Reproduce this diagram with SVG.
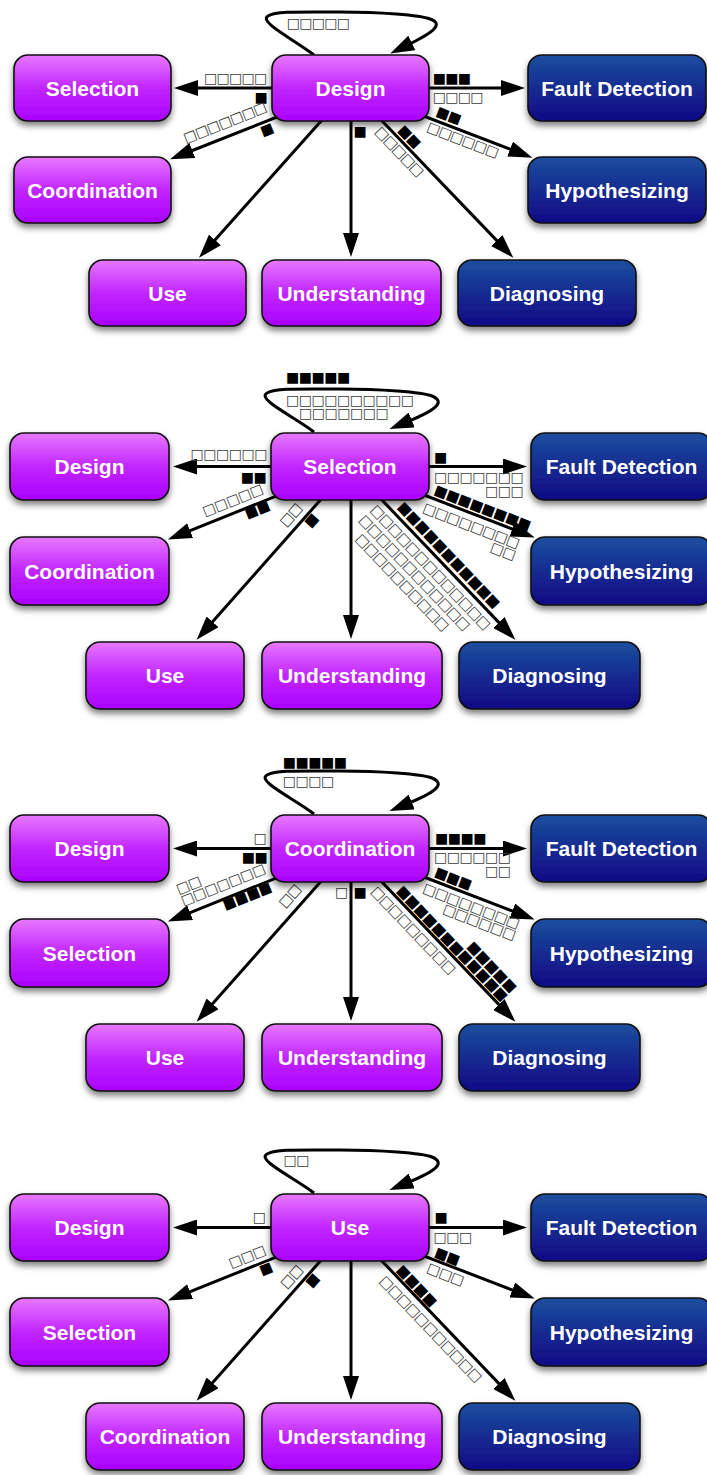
<svg xmlns="http://www.w3.org/2000/svg" width="707" height="1475" viewBox="0 0 707 1475">
<defs>
<linearGradient id="gp" x1="0" y1="0" x2="0" y2="1">
<stop offset="0" stop-color="#e878ff"/><stop offset="0.5" stop-color="#c126ff"/><stop offset="1" stop-color="#aa00ff"/>
</linearGradient>
<linearGradient id="gn" x1="0" y1="0" x2="0" y2="1">
<stop offset="0" stop-color="#1c4f9f"/><stop offset="0.5" stop-color="#132b90"/><stop offset="1" stop-color="#110986"/>
</linearGradient>
<filter id="sh" x="-20%" y="-20%" width="140%" height="170%">
<feDropShadow dx="0" dy="4" stdDeviation="3" flood-color="#000" flood-opacity="0.5"/>
</filter>
<marker id="ah" viewBox="0 0 24 16" refX="4" refY="8" markerWidth="24" markerHeight="16" orient="auto" markerUnits="userSpaceOnUse">
<path d="M0,0 L24,8 L0,16 z" fill="#000"/>
</marker>
</defs>
<style>
.e{fill:none;stroke:#000;stroke-width:3;marker-end:url(#ah)}
.np{fill:url(#gp);stroke:#111;stroke-width:1.6;filter:url(#sh)}
.nn{fill:url(#gn);stroke:#111;stroke-width:1.6;filter:url(#sh)}
.t{font-family:"Liberation Sans",Arial,sans-serif;font-weight:bold;font-size:21px;fill:#fff;text-anchor:middle}
.s{font-family:"DejaVu Sans",sans-serif;font-size:14px;text-anchor:middle;dominant-baseline:central}
.b{fill:#000}
.h{fill:#3a3a3a}
</style>
<rect width="707" height="1475" fill="#fff"/>

<g id="connectors">
<!-- panel 1 -->
<path class="e" d="M350.5,88 L194,88"/>
<path class="e" d="M350.5,88 L505,88"/>
<path class="e" d="M350.5,88 L188.6,152"/>
<path class="e" d="M350.5,88 L513.8,150.5"/>
<path class="e" d="M350.5,88 L212.3,242.9"/>
<path class="e" d="M351,88 L351,237"/>
<path class="e" d="M350.5,88 L499.5,243.4"/>
<path class="e" d="M314,55 C295,40 258,22 268,16 C276,11 300,12 340,12 C380,12 420,15 430,19 C444,24 434,32 408.2,44.7"/>
<!-- panel 2 -->
<path class="e" d="M350,466.5 L193,466.5"/>
<path class="e" d="M350,466.5 L507,466.5"/>
<path class="e" d="M350,466.5 L186.4,532.1"/>
<path class="e" d="M350,466.5 L516,530.4"/>
<path class="e" d="M350,466.5 L209.9,624.8"/>
<path class="e" d="M351,466.5 L351,619"/>
<path class="e" d="M350,466.5 L501.6,625.4"/>
<path class="e" transform="translate(0,433)" d="M314,-1 C295,-16 256,-34 267,-40 C276,-45 300,-44 340,-44 C380,-44 422,-41 432,-37 C446,-31 436,-23 408,-11.5"/>
<!-- panel 3 -->
<path class="e" d="M350,848.5 L193,848.5"/>
<path class="e" d="M350,848.5 L507,848.5"/>
<path class="e" d="M350,848.5 L186.4,914.1"/>
<path class="e" d="M350,848.5 L516,912.4"/>
<path class="e" d="M350,848.5 L209.9,1006.8"/>
<path class="e" d="M351,848.5 L351,1001"/>
<path class="e" d="M350,848.5 L501.6,1007.4"/>
<path class="e" transform="translate(0,815)" d="M314,-1 C295,-16 256,-34 267,-40 C276,-45 300,-44 340,-44 C380,-44 422,-41 432,-37 C446,-31 436,-23 408,-11.5"/>
<!-- panel 4 -->
<path class="e" d="M350,1227.5 L193,1227.5"/>
<path class="e" d="M350,1227.5 L507,1227.5"/>
<path class="e" d="M350,1227.5 L186.4,1293.1"/>
<path class="e" d="M350,1227.5 L516,1291.4"/>
<path class="e" d="M350,1227.5 L209.9,1385.8"/>
<path class="e" d="M351,1227.5 L351,1380"/>
<path class="e" d="M350,1227.5 L501.6,1386.4"/>
<path class="e" transform="translate(0,1194)" d="M314,-1 C295,-16 256,-34 267,-40 C276,-45 300,-44 340,-44 C380,-44 422,-41 432,-37 C446,-31 436,-23 408,-11.5"/>
</g>

<g id="edge-labels">
<!-- panel 1 -->
<text class="s h" transform="translate(293.3,23.3)" x="0 12.5 25 37.5 50" y="0">□□□□□</text>
<text class="s h" transform="translate(210.7,78.3)" x="0 12.5 25 37.5 50" y="0">□□□□□</text>
<text class="s b" transform="translate(261,97.3)" x="0" y="0">■</text>
<text class="s b" transform="translate(439.3,78.3)" x="0 12.5 25" y="0">■■■</text>
<text class="s h" transform="translate(439.3,97.3)" x="0 12.5 25 37.5" y="0">□□□□</text>
<text class="s h" transform="translate(260.7,110.7) rotate(158.43)" x="0 12.5 25 37.5 50 62.5 75" y="0">□□□□□□□</text>
<text class="s b" transform="translate(267.7,131.7) rotate(158.43)" x="0" y="0">■</text>
<text class="s b" transform="translate(443.3,112.7) rotate(20.94)" x="0 12.5" y="0">■■</text>
<text class="s h" transform="translate(434,128.3) rotate(20.94)" x="0 12.5 25 37.5 50 62.5" y="0">□□□□□□</text>
<text class="s b" transform="translate(360,130.7)" x="0" y="0">■</text>
<text class="s h" transform="translate(382.7,133.3) rotate(46.21)" x="0 12.5 25 37.5 50" y="0">□□□□□</text>
<text class="s b" transform="translate(405.7,131.7) rotate(46.21)" x="0 12.5" y="0">■■</text>
<!-- panel 2 -->
<text class="s b" transform="translate(292.7,376.7)" x="0 12.75 25.5 38.25 51" y="0">■■■■■</text>
<text class="s h" transform="translate(292.7,400)" x="0 12.75 25.5 38.25 51 63.75 76.5 89.25 102 114.75" y="0">□□□□□□□□□□</text>
<text class="s h" transform="translate(305.7,413.3)" x="0 12.75 25.5 38.25 51 63.75 76.5" y="0">□□□□□□□</text>
<text class="s h" transform="translate(197,454.3)" x="0 12.75 25.5 38.25 51 63.75" y="0">□□□□□□</text>
<text class="s b" transform="translate(247.3,476.7)" x="0 12.75" y="0">■■</text>
<text class="s b" transform="translate(440.7,456.7)" x="0" y="0">■</text>
<text class="s h" transform="translate(440.7,476.7)" x="0 12.75 25.5 38.25 51 63.75 76.5" y="0">□□□□□□□</text>
<text class="s h" transform="translate(491.7,490.7)" x="0 12.75 25.5" y="0">□□□</text>
<text class="s h" transform="translate(257.3,492.7) rotate(158.14)" x="0 12.75 25.5 38.25 51" y="0">□□□□□</text>
<text class="s b" transform="translate(264,509.2) rotate(158.14)" x="0 12.75" y="0">■■</text>
<text class="s b" transform="translate(441.25,491.1) rotate(21.05)" x="0 12.75 25.5 38.25 51 63.75 76.5 89.25" y="0">■■■■■■■■</text>
<text class="s h" transform="translate(430.05,509.1) rotate(21.05)" x="0 12.75 25.5 38.25 51 63.75 76.5 89.25" y="0">□□□□□□□□</text>
<text class="s h" transform="translate(497.5,548.4) rotate(21.05)" x="0 12.75" y="0">□□</text>
<text class="s h" transform="translate(296.7,511.5) rotate(131.52)" x="0 12.75" y="0">□□</text>
<text class="s b" transform="translate(312.8,521.7) rotate(131.52)" x="0" y="0">■</text>
<text class="s b" transform="translate(405.5,508.7) rotate(46.33)" x="0 12.75 25.5 38.25 51 63.75 76.5 89.25 102 114.75 127.5" y="0">■■■■■■■■■■■</text>
<text class="s h" transform="translate(378.3,511.65) rotate(46.33)" x="0 12.75 25.5 38.25 51 63.75 76.5 89.25 102 114.75 127.5 140.25 153" y="0">□□□□□□□□□□□□□</text>
<text class="s h" transform="translate(366.7,521.6) rotate(46.33)" x="0 12.75 25.5 38.25 51 63.75 76.5 89.25 102 114.75 127.5 140.25" y="0">□□□□□□□□□□□□</text>
<text class="s h" transform="translate(363.3,540.7) rotate(46.33)" x="0 12.75 25.5 38.25 51 63.75 76.5 89.25 102 114.75" y="0">□□□□□□□□□□</text>
<!-- panel 3 -->
<text class="s b" transform="translate(289.3,761.7)" x="0 12.75 25.5 38.25 51" y="0">■■■■■</text>
<text class="s h" transform="translate(289.3,780.7)" x="0 12.75 25.5 38.25" y="0">□□□□</text>
<text class="s h" transform="translate(260,838.3)" x="0" y="0">□</text>
<text class="s b" transform="translate(248.3,856.7)" x="0 12.75" y="0">■■</text>
<text class="s b" transform="translate(441.7,838.3)" x="0 12.75 25.5 38.25" y="0">■■■■</text>
<text class="s h" transform="translate(440.7,856.7)" x="0 12.75 25.5 38.25 51 63.75" y="0">□□□□□□</text>
<text class="s h" transform="translate(491.7,870.7)" x="0 12.75" y="0">□□</text>
<text class="s h" transform="translate(259.4,872.45) rotate(158.14)" x="0 12.75 25.5 38.25 51 63.75 76.5" y="0">□□□□□□□</text>
<text class="s h" transform="translate(195.5,884.6) rotate(158.14)" x="0 12.75" y="0">□□</text>
<text class="s b" transform="translate(265.7,890.9) rotate(158.14)" x="0 12.75 25.5 38.25" y="0">■■■■</text>
<text class="s h" transform="translate(295.7,892.6) rotate(131.52)" x="0 12.75" y="0">□□</text>
<text class="s h" transform="translate(341.7,892.3)" x="0" y="0">□</text>
<text class="s b" transform="translate(360,892.3)" x="0" y="0">■</text>
<text class="s h" transform="translate(378.7,893) rotate(46.33)" x="0 12.75 25.5 38.25 51 63.75 76.5 89.25 102" y="0">□□□□□□□□□</text>
<text class="s b" transform="translate(404.4,892.4) rotate(46.33)" x="0 12.75 25.5 38.25 51 63.75 76.5 89.25 102 114.75 127.5 140.25" y="0">■■■■■■■■■■■■</text>
<text class="s b" transform="translate(474.9,948.2) rotate(46.33)" x="0 12.75 25.5 38.25 51" y="0">■■■■■</text>
<text class="s b" transform="translate(441.7,873.3) rotate(21.05)" x="0 12.75 25.5" y="0">■■■</text>
<text class="s h" transform="translate(430,889.5) rotate(21.05)" x="0 12.75 25.5 38.25 51 63.75 76.5 89.25" y="0">□□□□□□□□</text>
<text class="s h" transform="translate(449.9,910.1) rotate(21.05)" x="0 12.75 25.5 38.25 51 63.75" y="0">□□□□□□</text>
<!-- panel 4 -->
<text class="s h" transform="translate(290,1160)" x="0 12.75" y="0">□□</text>
<text class="s h" transform="translate(259.3,1217.3)" x="0" y="0">□</text>
<text class="s b" transform="translate(441,1217.3)" x="0" y="0">■</text>
<text class="s h" transform="translate(440,1236.7)" x="0 12.75 25.5" y="0">□□□</text>
<text class="s h" transform="translate(260,1253.9) rotate(158.14)" x="0 12.75 25.5" y="0">□□□</text>
<text class="s b" transform="translate(266.7,1270.6) rotate(158.14)" x="0" y="0">■</text>
<text class="s h" transform="translate(297.3,1273.3) rotate(131.52)" x="0 12.75" y="0">□□</text>
<text class="s b" transform="translate(313.9,1281.7) rotate(131.52)" x="0" y="0">■</text>
<text class="s h" transform="translate(387.3,1282.5) rotate(46.33)" x="0 12.75 25.5 38.25 51 63.75 76.5 89.25 102 114.75 127.5" y="0">□□□□□□□□□□□</text>
<text class="s b" transform="translate(404.1,1271.7) rotate(46.33)" x="0 12.75 25.5 38.25" y="0">■■■■</text>
<text class="s b" transform="translate(441.7,1253.4) rotate(21.05)" x="0 12.75" y="0">■■</text>
<text class="s h" transform="translate(434,1269.3) rotate(21.05)" x="0 12.75 25.5" y="0">□□□</text>
</g>

<!-- panel 1 nodes -->
<g id="p1-selection"><rect class="np" x="14" y="55" width="157" height="66" rx="14"/><text class="t" x="92.5" y="95.5">Selection</text></g>
<g id="p1-design"><rect class="np" x="272" y="55" width="157" height="66" rx="14"/><text class="t" x="350.5" y="95.5">Design</text></g>
<g id="p1-fault-detection"><rect class="nn" x="528" y="55" width="178" height="66" rx="14"/><text class="t" x="617" y="95.5">Fault Detection</text></g>
<g id="p1-coordination"><rect class="np" x="14" y="157" width="157" height="66" rx="14"/><text class="t" x="92.5" y="197.5">Coordination</text></g>
<g id="p1-hypothesizing"><rect class="nn" x="528" y="157" width="178" height="66" rx="14"/><text class="t" x="617" y="197.5">Hypothesizing</text></g>
<g id="p1-use"><rect class="np" x="89" y="260" width="157" height="66" rx="14"/><text class="t" x="167.5" y="300.5">Use</text></g>
<g id="p1-understanding"><rect class="np" x="262" y="260" width="179" height="66" rx="14"/><text class="t" x="351.5" y="300.5">Understanding</text></g>
<g id="p1-diagnosing"><rect class="nn" x="458" y="260" width="178" height="66" rx="14"/><text class="t" x="547" y="300.5">Diagnosing</text></g>

<!-- panel 2 nodes -->
<g id="p2-design"><rect class="np" x="10" y="433" width="159" height="67" rx="14"/><text class="t" x="89.5" y="474">Design</text></g>
<g id="p2-selection"><rect class="np" x="271" y="433" width="158" height="67" rx="14"/><text class="t" x="350" y="474">Selection</text></g>
<g id="p2-fault-detection"><rect class="nn" x="531" y="433" width="181" height="67" rx="14"/><text class="t" x="621.5" y="474">Fault Detection</text></g>
<g id="p2-coordination"><rect class="np" x="10" y="537" width="159" height="68" rx="14"/><text class="t" x="89.5" y="578.5">Coordination</text></g>
<g id="p2-hypothesizing"><rect class="nn" x="531" y="537" width="181" height="68" rx="14"/><text class="t" x="621.5" y="578.5">Hypothesizing</text></g>
<g id="p2-use"><rect class="np" x="86" y="642" width="158" height="67" rx="14"/><text class="t" x="165" y="683">Use</text></g>
<g id="p2-understanding"><rect class="np" x="262" y="642" width="180" height="67" rx="14"/><text class="t" x="352" y="683">Understanding</text></g>
<g id="p2-diagnosing"><rect class="nn" x="459" y="642" width="181" height="67" rx="14"/><text class="t" x="549.5" y="683">Diagnosing</text></g>

<!-- panel 3 nodes -->
<g id="p3-design"><rect class="np" x="10" y="815" width="159" height="67" rx="14"/><text class="t" x="89.5" y="856">Design</text></g>
<g id="p3-coordination"><rect class="np" x="271" y="815" width="158" height="67" rx="14"/><text class="t" x="350" y="856">Coordination</text></g>
<g id="p3-fault-detection"><rect class="nn" x="531" y="815" width="181" height="67" rx="14"/><text class="t" x="621.5" y="856">Fault Detection</text></g>
<g id="p3-selection"><rect class="np" x="10" y="919" width="159" height="68" rx="14"/><text class="t" x="89.5" y="960.5">Selection</text></g>
<g id="p3-hypothesizing"><rect class="nn" x="531" y="919" width="181" height="68" rx="14"/><text class="t" x="621.5" y="960.5">Hypothesizing</text></g>
<g id="p3-use"><rect class="np" x="86" y="1024" width="158" height="67" rx="14"/><text class="t" x="165" y="1065">Use</text></g>
<g id="p3-understanding"><rect class="np" x="262" y="1024" width="180" height="67" rx="14"/><text class="t" x="352" y="1065">Understanding</text></g>
<g id="p3-diagnosing"><rect class="nn" x="459" y="1024" width="181" height="67" rx="14"/><text class="t" x="549.5" y="1065">Diagnosing</text></g>

<!-- panel 4 nodes -->
<g id="p4-design"><rect class="np" x="10" y="1194" width="159" height="67" rx="14"/><text class="t" x="89.5" y="1235">Design</text></g>
<g id="p4-use"><rect class="np" x="271" y="1194" width="158" height="67" rx="14"/><text class="t" x="350" y="1235">Use</text></g>
<g id="p4-fault-detection"><rect class="nn" x="531" y="1194" width="181" height="67" rx="14"/><text class="t" x="621.5" y="1235">Fault Detection</text></g>
<g id="p4-selection"><rect class="np" x="10" y="1298" width="159" height="68" rx="14"/><text class="t" x="89.5" y="1339.5">Selection</text></g>
<g id="p4-hypothesizing"><rect class="nn" x="531" y="1298" width="181" height="68" rx="14"/><text class="t" x="621.5" y="1339.5">Hypothesizing</text></g>
<g id="p4-coordination"><rect class="np" x="86" y="1403" width="158" height="67" rx="14"/><text class="t" x="165" y="1444">Coordination</text></g>
<g id="p4-understanding"><rect class="np" x="262" y="1403" width="180" height="67" rx="14"/><text class="t" x="352" y="1444">Understanding</text></g>
<g id="p4-diagnosing"><rect class="nn" x="459" y="1403" width="181" height="67" rx="14"/><text class="t" x="549.5" y="1444">Diagnosing</text></g>
</svg>
